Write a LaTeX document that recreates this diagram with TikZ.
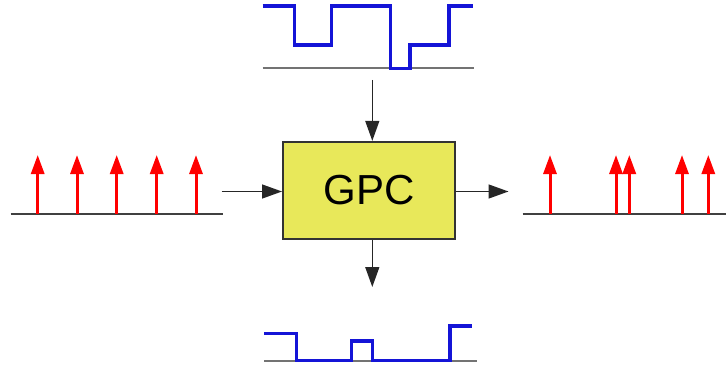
\documentclass[tikz,border=0pt]{standalone}
\usepackage{fontspec}
\setmainfont{Liberation Sans}
\usetikzlibrary{arrows.meta}
\definecolor{boxyellow}{RGB}{232,232,90}
\definecolor{wave}{RGB}{20,20,215}
\definecolor{axisgray}{RGB}{115,115,115}
\begin{document}
\begin{tikzpicture}[x=1pt,y=-1pt,
  box/.style={draw=black!80,line width=1.8pt,fill=boxyellow,minimum width=172pt,minimum height=97.5pt,inner sep=0pt,font=\fontsize{42}{46}\selectfont},
  flow/.style={draw=black!85,line width=1.4pt,-{Triangle[length=20pt,width=14pt]}},
  pulse/.style={draw=red,line width=3pt,-{Triangle[length=19pt,width=13pt]}},
  axis/.style={draw=axisgray,line width=2.2pt},
  sig/.style={draw=wave,line width=3.2pt,line join=miter}]
\useasboundingbox (0,0) rectangle (726,369);
\node[box] (gpc) at (368.9,190.5) {GPC};
% coordinates
\coordinate (inL) at (221.7,191.5);
\coordinate (outR) at (508.5,191.5);
\coordinate (inT) at (372.3,80);
\coordinate (outB) at (372.3,287);
\draw[flow] (inL) -- (inL -| gpc.west);
\draw[flow] (outR -| gpc.east) -- (outR);
\draw[flow] (inT) -- (inT |- gpc.north);
\draw[flow] (outB |- gpc.south) -- (outB);
% top waveform
\draw[axis] (262.5,68.3) -- (474,68.3);
\draw[sig] (262.5,6) -- (294.3,6) -- (294.3,45) -- (331.7,45) -- (331.7,6) -- (390.7,6) -- (390.7,68.3) -- (410,68.3) -- (410,45) -- (449,45) -- (449,6) -- (473,6);
% bottom waveform
\draw[axis] (264,360.7) -- (476.5,360.7);
\draw[sig] (264,333.3) -- (296.7,333.3) -- (296.7,360.7) -- (351.7,360.7) -- (351.7,341) -- (372.3,341) -- (372.3,360.7) -- (450,360.7) -- (450,326) -- (471.7,326);
% left pulses
\draw[axis,draw=black!75] (10.7,214.3) -- (222.7,214.3);
\foreach \xx/\nm in {37.7/l1,77/l2,116.7/l3,156.7/l4,196/l5}{
  \coordinate (\nm) at (\xx,214.3);
  \draw[pulse] (\nm) -- ++(0,-59.3);
}
% right pulses
\draw[axis,draw=black!75] (522.7,214.3) -- (726,214.3);
\foreach \xx/\nm in {550/r1,616/r2,629.3/r3,682/r4,708.3/r5}{
  \coordinate (\nm) at (\xx,214.3);
  \draw[pulse] (\nm) -- ++(0,-59.3);
}
\end{tikzpicture}
\end{document}
